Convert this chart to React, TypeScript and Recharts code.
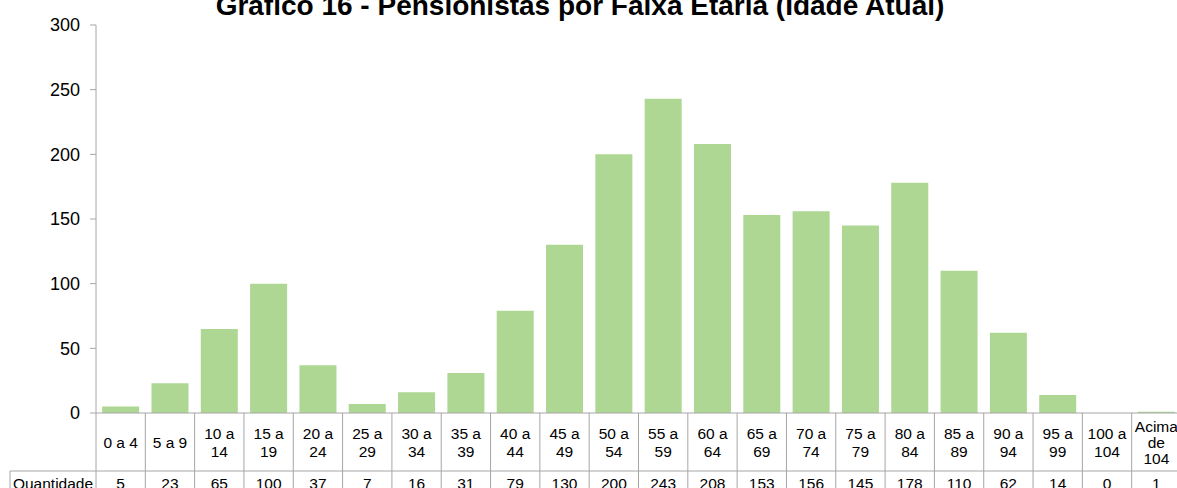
import React from 'react';
import { BarChart, Bar, XAxis, YAxis } from 'recharts';

const categories = [
  '0 a 4', '5 a 9', '10 a\n14', '15 a\n19', '20 a\n24', '25 a\n29', '30 a\n34', '35 a\n39',
  '40 a\n44', '45 a\n49', '50 a\n54', '55 a\n59', '60 a\n64', '65 a\n69', '70 a\n74', '75 a\n79',
  '80 a\n84', '85 a\n89', '90 a\n94', '95 a\n99', '100 a\n104', 'Acima\nde\n104',
];
const quantidade = [5, 23, 65, 100, 37, 7, 16, 31, 79, 130, 200, 243, 208, 153, 156, 145, 178, 110, 62, 14, 0, 1];
const yTicks = [0, 50, 100, 150, 200, 250, 300];

const data = categories.map((faixa, i) => ({ faixa, quantidade: quantidade[i] }));

const W = 1183;
const H = 488;
const LEFT = 96;
const RIGHT = 2;
const bandWidth = (W - LEFT - RIGHT) / categories.length;
const FONT = '"Liberation Sans", Arial, sans-serif';
const BORDER = '#A6A6A6';

const TableTick = (props: any) => {
  const { x, y, payload } = props;
  const idx = payload.index;
  const lines: string[] = String(payload.value).split('\n');
  const half = bandWidth / 2;
  const rowTop = y + 58;
  const centerY = y + 29;
  const lh = lines.length > 2 ? 16 : 18;
  const startY = centerY - ((lines.length - 1) * lh) / 2;
  return (
    <g>
      <line x1={x + half} y1={y} x2={x + half} y2={H + 10} stroke={BORDER} />
      <line x1={x - half} y1={rowTop} x2={x + half} y2={rowTop} stroke={BORDER} />
      {lines.map((ln, i) => (
        <text key={i} x={x} y={startY + i * lh} textAnchor="middle" dominantBaseline="central"
          fontSize={15.5} fontFamily={FONT} fill="#000">{ln}</text>
      ))}
      <text x={x} y={rowTop + 12} textAnchor="middle" dominantBaseline="central"
        fontSize={15.5} fontFamily={FONT} fill="#000">{quantidade[idx]}</text>
      {idx === 0 && (
        <g>
          <line x1={x - half} y1={y} x2={x - half} y2={H + 10} stroke={BORDER} />
          <line x1={10} y1={rowTop} x2={x - half} y2={rowTop} stroke={BORDER} />
          <line x1={10} y1={rowTop} x2={10} y2={H + 10} stroke={BORDER} />
          <text x={(10 + x - half) / 2} y={rowTop + 12} textAnchor="middle" dominantBaseline="central"
            fontSize={15.5} fontFamily={FONT} fill="#000">Quantidade</text>
        </g>
      )}
    </g>
  );
};

export default function App() {
  return (
    <div style={{ position: 'absolute', left: 0, top: 0, width: 1177, height: H, overflow: 'hidden', background: '#fff' }}>
      <BarChart width={W} height={H} data={data} margin={{ top: 25, right: RIGHT, left: 0, bottom: 0 }} barCategoryGap="12.5%">
        <XAxis dataKey="faixa" interval={0} height={75} tickLine={false} tickSize={0} tickMargin={0}
          axisLine={{ stroke: BORDER }} tick={<TableTick />} />
        <YAxis width={LEFT} domain={[0, 300]} ticks={yTicks} interval={0} axisLine={{ stroke: BORDER }}
          tickLine={{ stroke: BORDER }} tickSize={6} tickMargin={10}
          tick={{ fontSize: 18, fontFamily: FONT, fill: '#000' }} />
        <Bar dataKey="quantidade" fill="#ADD793" isAnimationActive={false} />
      </BarChart>
      <svg width={1177} height={30} style={{ position: 'absolute', left: 0, top: 0 }}>
        <text x={580} y={15} textAnchor="middle" fontSize={28} fontWeight="bold" fontFamily={FONT} fill="#000">
          Gráfico 16 - Pensionistas por Faixa Etária (Idade Atual)
        </text>
      </svg>
    </div>
  );
}
